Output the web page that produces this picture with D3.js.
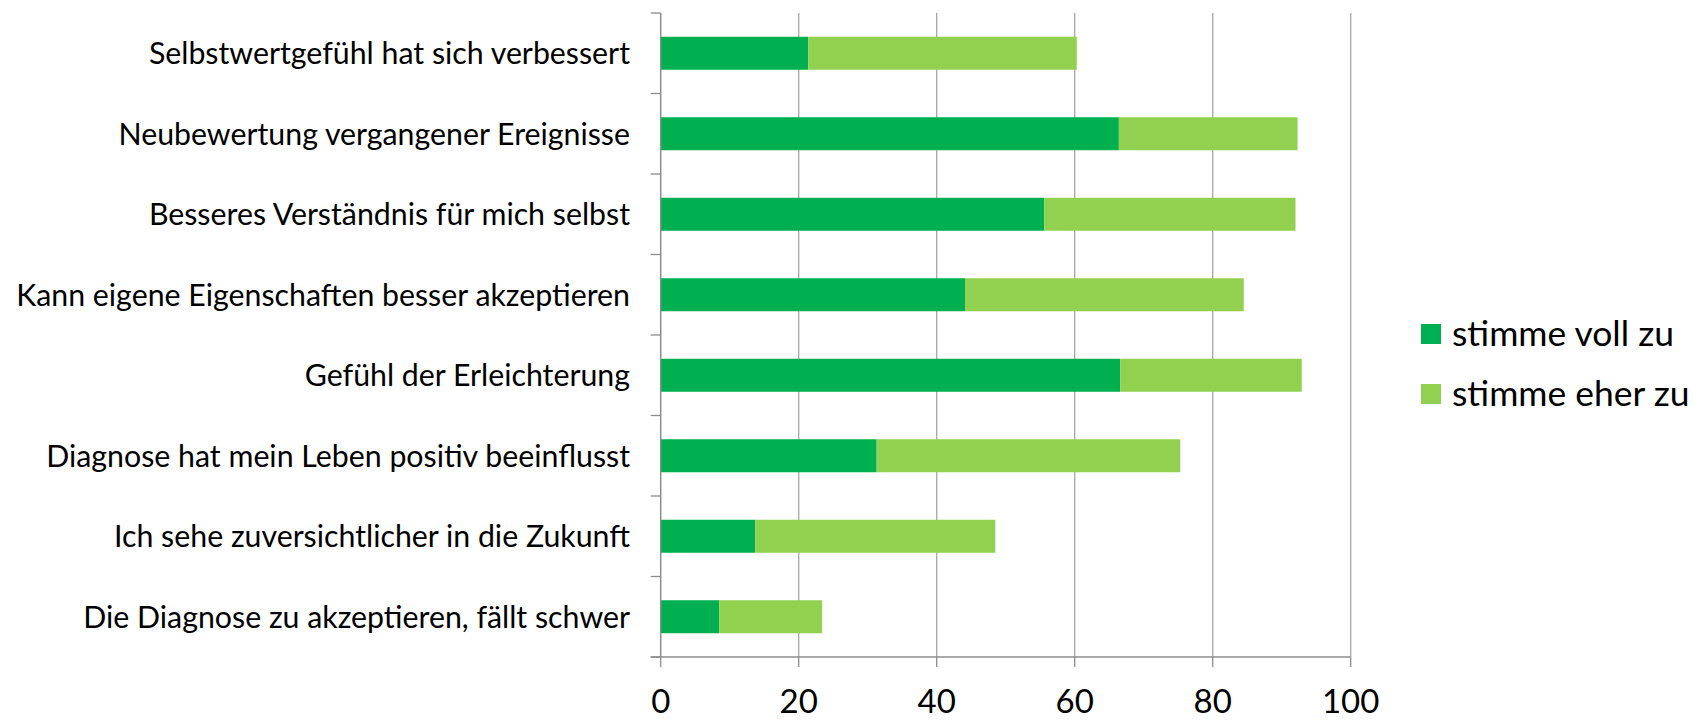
<!DOCTYPE html>
<html>
<head>
<meta charset="utf-8">
<script src="https://cdn.jsdelivr.net/npm/d3@7"></script>
<style>
  html, body { margin: 0; padding: 0; background: #fff; }
  svg { display: block; }
</style>
</head>
<body>
<div id="chart"></div>
<script>
// categories, top to bottom
const categories = [
  'Selbstwertgefühl hat sich verbessert',
  'Neubewertung vergangener Ereignisse',
  'Besseres Verständnis für mich selbst',
  'Kann eigene Eigenschaften besser akzeptieren',
  'Gefühl der Erleichterung',
  'Diagnose hat mein Leben positiv beeinflusst',
  'Ich sehe zuversichtlicher in die Zukunft',
  'Die Diagnose zu akzeptieren, fällt schwer'
]
const seriesNames = ['stimme voll zu', 'stimme eher zu']
const volleZu = [21.4, 66.4, 55.6, 44.1, 66.6, 31.3, 13.7, 8.5]
const eherZu = [38.9, 25.9, 36.4, 40.4, 26.3, 44.0, 34.8, 14.9]
const xTicks = [0, 20, 40, 60, 80, 100]

const W = 1697, H = 721
const colors = ['#00B050', '#92D050']
const FONT = 'Lato, "Open Sans", sans-serif'

const svg = d3.select('#chart').append('svg')
  .attr('width', W).attr('height', H)

const x = d3.scaleLinear().domain([0, 100]).range([660.7, 1350.7])
const y = d3.scaleBand().domain(categories).range([13, 657])
  .paddingInner(0.59).paddingOuter(0.295)
const yb = d3.scaleBand().domain(categories).range([13, 657])  // for ticks

// stacked data
const rows = categories.map((c, i) => ({ cat: c, voll: volleZu[i], eher: eherZu[i] }))
const stack = d3.stack().keys(['voll', 'eher'])(rows)

// gridlines
svg.append('g').selectAll('line').data(xTicks.slice(1)).join('line')
  .attr('x1', d => x(d)).attr('x2', d => x(d))
  .attr('y1', 13).attr('y2', 657)
  .attr('stroke', '#a6a6a6').attr('stroke-width', 1.3)

// bars
svg.append('g').selectAll('g').data(stack).join('g')
  .attr('fill', (d, i) => colors[i])
  .selectAll('rect').data(d => d).join('rect')
  .attr('x', d => x(d[0]))
  .attr('width', d => x(d[1]) - x(d[0]))
  .attr('y', d => y(d.data.cat))
  .attr('height', y.bandwidth())

// y axis line + ticks at band boundaries
const axisColor = '#8c8c8c'
svg.append('line').attr('x1', x(0)).attr('x2', x(0)).attr('y1', 13).attr('y2', 657)
  .attr('stroke', axisColor).attr('stroke-width', 1.5)
const bounds = categories.map(c => yb(c)).concat([657])
svg.append('g').selectAll('line').data(bounds).join('line')
  .attr('x1', x(0) - 10).attr('x2', x(0))
  .attr('y1', d => d).attr('y2', d => d)
  .attr('stroke', axisColor).attr('stroke-width', 1.3)

// x axis line + ticks
svg.append('line').attr('x1', x(0) - 10).attr('x2', x(100)).attr('y1', 657).attr('y2', 657)
  .attr('stroke', axisColor).attr('stroke-width', 1.5)
svg.append('g').selectAll('line').data(xTicks).join('line')
  .attr('x1', d => x(d)).attr('x2', d => x(d))
  .attr('y1', 657).attr('y2', 667)
  .attr('stroke', axisColor).attr('stroke-width', 1.3)

// x tick labels
svg.append('g').selectAll('text').data(xTicks).join('text')
  .attr('x', d => x(d)).attr('y', 713)
  .attr('text-anchor', 'middle')
  .style('font-family', FONT).style('font-size', '33px').style('fill', '#000')
  .text(d => d)

// category labels, font size fitted to the longest label
const labels = svg.append('g').selectAll('text').data(categories).join('text')
  .attr('x', 630)
  .attr('y', d => yb(d) + yb.bandwidth() / 2)
  .attr('dy', '0.36em')
  .attr('text-anchor', 'end')
  .style('font-family', FONT).style('font-size', '28px').style('fill', '#000')
  .text(d => d)
let maxW = d3.max(labels.nodes(), n => n.getComputedTextLength())
const fs = 28 * 614 / maxW
labels.style('font-size', fs + 'px')

// legend
const leg = svg.append('g').selectAll('g').data(seriesNames).join('g')
  .attr('transform', (d, i) => `translate(1421, ${324 + i * 60})`)
leg.append('rect').attr('width', 20).attr('height', 20).attr('fill', (d, i) => colors[i])
leg.append('text').attr('x', 31).attr('y', 22)
  .style('font-family', FONT).style('font-size', (fs * 1.17) + 'px').style('fill', '#000')
  .text(d => d)
</script>
</body>
</html>
